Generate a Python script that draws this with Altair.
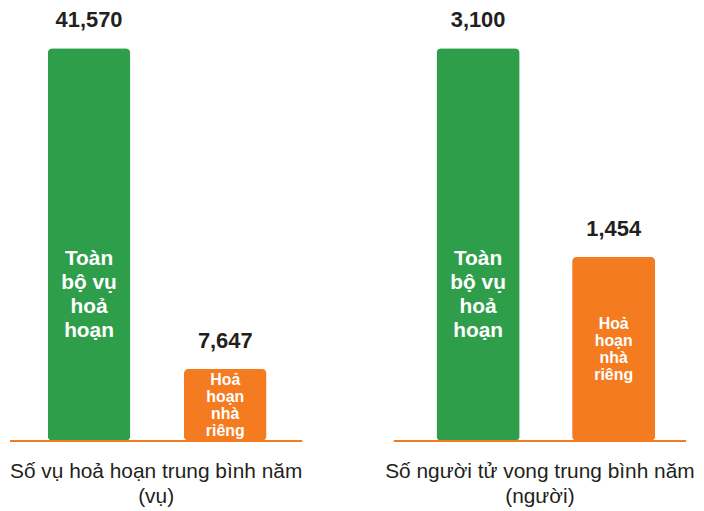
import altair as alt
import pandas as pd

categories = ["Toàn bộ vụ hoả hoạn", "Hoả hoạn nhà riêng"]
bar_labels = ["Toàn\nbộ vụ\nhoả\nhoạn", "Hoả\nhoạn\nnhà\nriêng"]
fires_per_year = [41570, 7647]
deaths_per_year = [3100, 1454]
caption_fires = ["Số vụ hoả hoạn trung bình năm", "(vụ)"]
caption_deaths = ["Số người tử vong trung bình năm", "(người)"]
colors = ["#2E9E4A", "#F47B20"]

FONT = "Liberation Sans"
DARK = "#231F20"
H = 495


def panel(values, caption, width, xrange, pad_inner, rule_x, cap_x):
    df = pd.DataFrame({"cat": categories, "value": values, "label": bar_labels})
    yscale = alt.Scale(domain=[0, max(values)], range=[434, 39], nice=False, zero=True)
    x = alt.X("cat:N", sort=categories, axis=None,
              scale=alt.Scale(range=xrange, paddingInner=pad_inner, paddingOuter=0))
    y = alt.Y("value:Q", axis=None, scale=yscale)
    color = alt.Color("cat:N", sort=categories,
                      scale=alt.Scale(domain=categories, range=colors), legend=None)
    base = alt.Chart(df).encode(x=x)
    bars = base.mark_bar(cornerRadius=5).encode(y=y, color=color)
    vals = base.mark_text(dy=-28, baseline="middle", font=FONT, fontSize=22,
                          fontWeight="bold", color=DARK).encode(
        y=y, text=alt.Text("value:Q", format=","))
    mid = alt.Y("mid:Q", axis=None)
    green_lbl = base.transform_filter(alt.datum.cat == categories[0]).transform_calculate(
        mid="datum.value / 2").mark_text(
        dy=15, baseline="middle", lineBreak="\n", lineHeight=24, font=FONT, fontSize=21,
        fontWeight="bold", color="white").encode(y=mid, text="label:N")
    orange_lbl = base.transform_filter(alt.datum.cat == categories[1]).transform_calculate(
        mid="datum.value / 2").mark_text(
        dy=-25, baseline="middle", lineBreak="\n", lineHeight=17, font=FONT, fontSize=16,
        fontWeight="bold", color="white").encode(y=mid, text="label:N")
    rule = alt.Chart(df.head(1)).mark_rule(color=colors[1], strokeWidth=2).encode(
        x=alt.value(rule_x[0]), x2=alt.value(rule_x[1]), y=alt.value(434))
    cap = alt.Chart(pd.DataFrame({"caption": ["\n".join(caption)]})).mark_text(
        baseline="middle", lineBreak="\n", lineHeight=25, font=FONT, fontSize=21,
        color=DARK).encode(x=alt.value(cap_x), y=alt.value(465), text="caption:N")
    return alt.layer(bars, rule, vals, green_lbl, orange_lbl, cap).properties(
        width=width, height=H)


left = panel(fires_per_year, caption_fires, 340, [40, 260], 0.394, (2, 296), 149)
right = panel(deaths_per_year, caption_deaths, 348, [87, 307], 0.387, (44, 338), 191)

chart = alt.hconcat(left, right, spacing=4).properties(
    padding=0).configure_view(stroke=None)

chart.save("out.html", embed_options={"renderer": "svg", "actions": False})
